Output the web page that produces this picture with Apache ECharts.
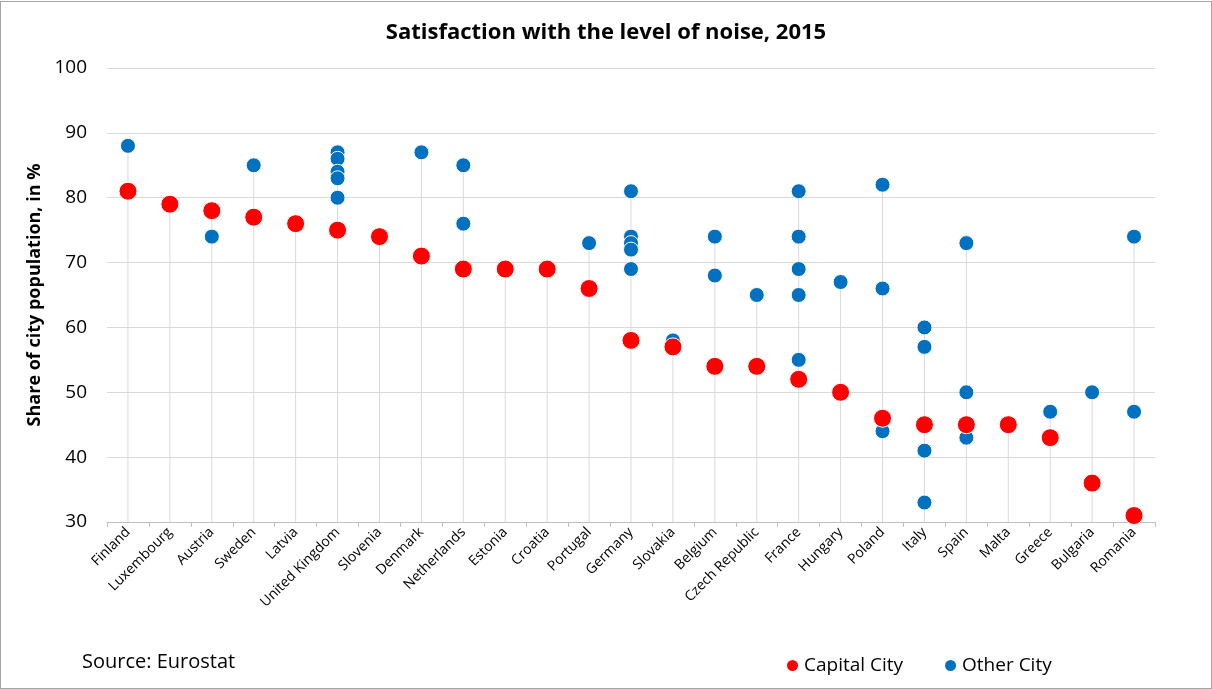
<!DOCTYPE html>
<html>
<head>
<meta charset="utf-8">
<script src="https://cdn.jsdelivr.net/npm/echarts@6/dist/echarts.min.js"></script>
<style>
  html, body { margin: 0; padding: 0; background: #fff; }
  #chart { width: 1210px; height: 686px; border: 1px solid #a6a6a6; margin-top: 1px; }
</style>
</head>
<body>
<div id="chart"></div>
<script>
var countries = ['Finland', 'Luxembourg', 'Austria', 'Sweden', 'Latvia', 'United Kingdom', 'Slovenia',
    'Denmark', 'Netherlands', 'Estonia', 'Croatia', 'Portugal', 'Germany', 'Slovakia', 'Belgium',
    'Czech Republic', 'France', 'Hungary', 'Poland', 'Italy', 'Spain', 'Malta', 'Greece', 'Bulgaria', 'Romania'];

// capital city value per country
var capitalValues = [81, 79, 78, 77, 76, 75, 74, 71, 69, 69, 69, 66, 58, 57, 54, 54, 52, 50, 46, 45, 45, 45, 43, 36, 31];

// other cities per country (same order)
var otherValues = [
    [88], [], [74], [85], [], [87, 86, 84, 83, 80], [],
    [87], [85, 76], [], [], [73], [81, 74, 73, 72, 69], [58], [74, 68],
    [65], [81, 74, 69, 65, 55], [67], [82, 66, 44], [60, 57, 41, 33], [73, 50, 43], [], [47], [50], [74, 47]
];

var capitalData = capitalValues.map(function (v, i) { return [i, v]; });
var otherData = [];
var maxValues = [];
for (var i = 0; i < countries.length; i++) {
    var hi = capitalValues[i];
    for (var j = 0; j < otherValues[i].length; j++) {
        otherData.push([i, otherValues[i][j]]);
        if (otherValues[i][j] > hi) hi = otherValues[i][j];
    }
    maxValues.push(hi);
}

var font = 'Open Sans';

var option = {
    animation: false,
    backgroundColor: '#fff',
    title: {
        text: 'Satisfaction with the level of noise, 2015',
        left: 'center',
        top: 15,
        textStyle: { fontFamily: font, fontSize: 22, fontWeight: 'bold', color: '#000' }
    },
    legend: {
        left: 779,
        top: 649,
        itemGap: 40,
        itemWidth: 13,
        itemHeight: 13,
        data: [
            { name: 'Capital City', icon: 'circle' },
            { name: 'Other City', icon: 'circle' }
        ],
        textStyle: { fontFamily: font, fontSize: 19, color: '#000' }
    },
    graphic: [{
        type: 'text',
        left: 81,
        top: 650,
        style: { text: 'Source: Eurostat', fontFamily: font, fontSize: 20, fill: '#000' }
    }],
    grid: { left: 106, right: 56, top: 66, bottom: 166, containLabel: false },
    xAxis: {
        type: 'category',
        data: countries,
        boundaryGap: true,
        axisLine: { lineStyle: { color: '#bfbfbf' } },
        axisTick: { show: true, length: 5, lineStyle: { color: '#bfbfbf' } },
        axisLabel: { rotate: 45, interval: 0, fontFamily: font, fontSize: 14, color: '#000', margin: 8 }
    },
    yAxis: {
        type: 'value',
        min: 30,
        max: 100,
        interval: 10,
        name: 'Share of city population, in %',
        nameLocation: 'middle',
        nameGap: 62,
        nameTextStyle: { fontFamily: font, fontSize: 18, fontWeight: 'bold', color: '#000' },
        axisLine: { show: false },
        axisTick: { show: false },
        axisLabel: { fontFamily: font, fontSize: 19, color: '#000', margin: 20 },
        splitLine: { lineStyle: { color: '#d9d9d9' } }
    },
    series: [
        {
            name: 'drop',
            type: 'bar',
            data: maxValues,
            barWidth: 1,
            silent: true,
            itemStyle: { color: '#d9d9d9' },
            z: 1
        },
        {
            name: 'Capital City',
            type: 'scatter',
            data: capitalData,
            symbolSize: 18,
            itemStyle: { color: '#ff0000', borderColor: '#fff', borderWidth: 1, opacity: 1 },
            z: 4
        },
        {
            name: 'Other City',
            type: 'scatter',
            data: otherData,
            symbolSize: 15,
            itemStyle: { color: '#0070c0', borderColor: '#fff', borderWidth: 1, opacity: 1 },
            z: 3
        }
    ]
};

var myChart = echarts.init(document.getElementById('chart'));
myChart.setOption(option);
</script>
</body>
</html>
